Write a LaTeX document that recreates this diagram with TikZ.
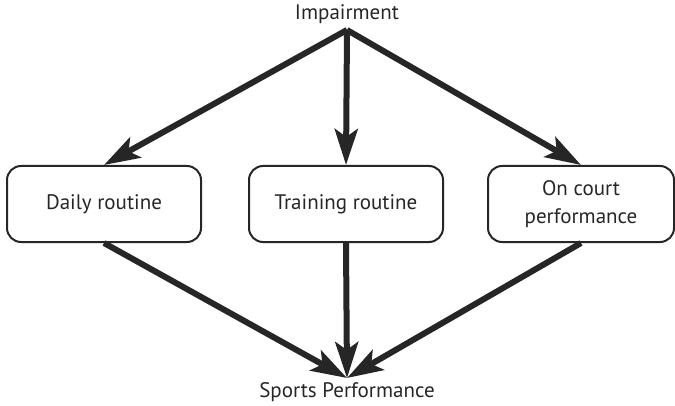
\documentclass[tikz,border=0pt]{standalone}
\usepackage{fontspec}
\setmainfont{PT Sans}
\usetikzlibrary{arrows.meta}
\definecolor{ink}{gray}{0.15}
\tikzset{
  stage/.style={draw=ink, line width=2pt, rounded corners=14pt, minimum width=194pt,
    minimum height=76pt, align=center, text=ink, font=\fontsize{21}{28}\selectfont},
  label/.style={text=ink, font=\fontsize{21}{24}\selectfont, inner sep=0pt},
  flow/.style={draw=ink, line width=6pt, -{Stealth[length=36pt,width=23pt,inset=8pt]}}
}
\begin{document}
\begin{tikzpicture}[x=1pt,y=1pt] %impairment diagram
            \useasboundingbox (0,0) rectangle (675,405);

            \node[label] (imp) at (347,391) {Impairment};
            \node[label] (sport) at (347,13) {Sports Performance};
            \coordinate (top) at (347,375);
            \coordinate (bottom) at (347,27);

            \node[stage] (daily) at (104,201) {Daily routine};
            \node[stage] (train) at (346,201) {Training routine};
            \node[stage, minimum width=186pt] (court) at (581,201) {On court\\performance};

            \draw[flow] (top) -- (daily.north);
            \draw[flow] (top) -- (train.north);
            \draw[flow] (top) -- (court.north);

            \draw[flow] (daily.south) -- (bottom);
            \draw[flow] (train.south) -- (bottom);
            \draw[flow] (court.south) -- (bottom);
        \end{tikzpicture}
\end{document}
